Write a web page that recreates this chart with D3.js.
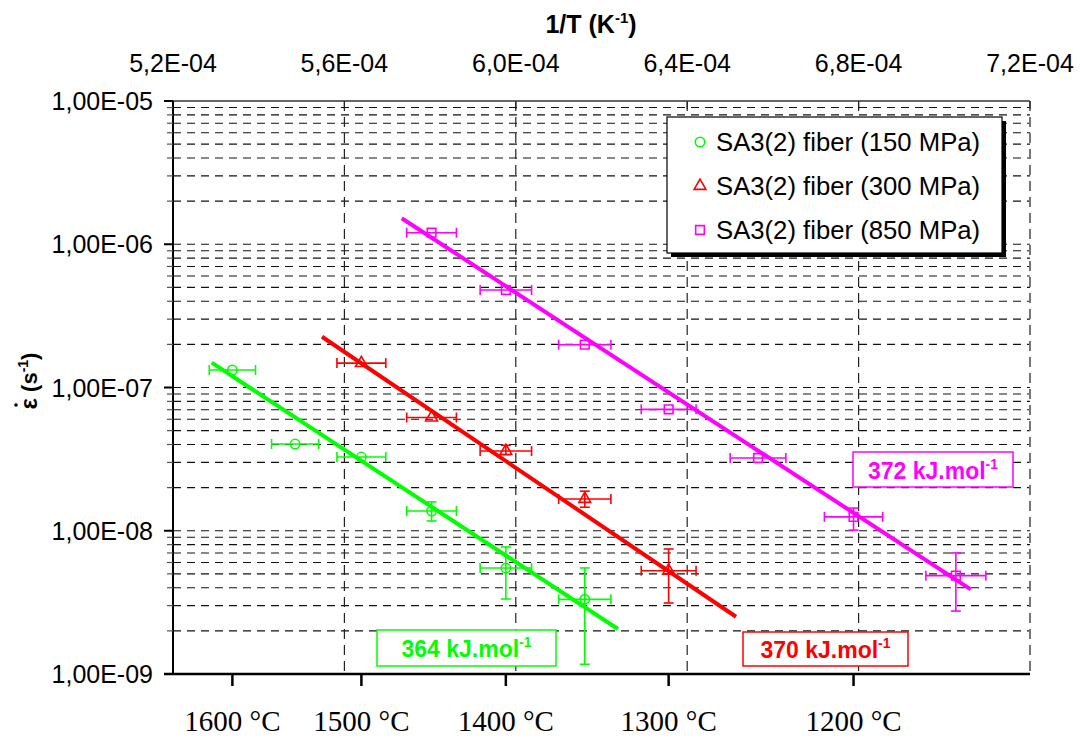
<!DOCTYPE html>
<html><head><meta charset="utf-8">
<script src="https://cdn.jsdelivr.net/npm/d3@7/dist/d3.min.js"></script>
<style>body{margin:0;background:#fff}svg{display:block}</style>
</head><body>
<svg id="chart" width="1080" height="738"></svg>
<script>
// ---------- data ----------
const seriesNames = ["SA3(2) fiber (150 MPa)", "SA3(2) fiber (300 MPa)", "SA3(2) fiber (850 MPa)"];
const seriesColors = ["#00ff00", "#ff0000", "#ff00ff"];
const seriesSymbols = ["circle", "triangle", "square"];

// 1/T (K^-1) of each test
const invT150 = [5.3386e-4, 5.4850e-4, 5.6396e-4, 5.8034e-4, 5.9768e-4, 6.1610e-4];
const rate150 = [1.325e-7, 4.03e-8, 3.27e-8, 1.374e-8, 5.49e-9, 3.32e-9];
const xErr150 = [5.4e-6, 5.5e-6, 5.7e-6, 5.8e-6, 6.0e-6, 6.1e-6];
const yLo150  = [null, null, null, 1.17e-8, 3.34e-9, 1.17e-9];
const yHi150  = [null, null, null, 1.59e-8, 7.71e-9, 5.5e-9];

const invT300 = [5.6396e-4, 5.8034e-4, 5.9768e-4, 6.1610e-4, 6.3567e-4];
const rate300 = [1.48e-7, 6.17e-8, 3.60e-8, 1.666e-8, 5.26e-9];
const xErr300 = [5.7e-6, 5.8e-6, 6.0e-6, 6.1e-6, 6.4e-6];
const yLo300  = [null, null, 3.4e-8, 1.46e-8, 3.13e-9];
const yHi300  = [null, null, 3.95e-8, 1.89e-8, 7.46e-9];

const invT850 = [5.8034e-4, 5.9768e-4, 6.1610e-4, 6.3567e-4, 6.5653e-4, 6.7882e-4, 7.0270e-4];
const rate850 = [1.204e-6, 4.79e-7, 1.99e-7, 7.04e-8, 3.22e-8, 1.25e-8, 4.86e-9];
const xErr850 = [5.8e-6, 6.0e-6, 6.1e-6, 6.4e-6, 6.5e-6, 6.8e-6, 7.0e-6];
const yLo850  = [null, null, null, null, null, 1.01e-8, 2.75e-9];
const yHi850  = [null, null, null, null, null, 1.44e-8, 7.0e-9];

// Arrhenius fit lines (endpoints)
const fitX150 = [5.2903e-4, 6.2385e-4], fitY150 = [1.49e-7, 2.06e-9];
const fitX300 = [5.5477e-4, 6.5139e-4], fitY300 = [2.26e-7, 2.51e-9];
const fitX850 = [5.7337e-4, 7.0616e-4], fitY850 = [1.52e-6, 3.90e-9];

const energyLabels = ["364 kJ.mol", "370 kJ.mol", "372 kJ.mol"];

// axes
const xTopTicks = [5.2e-4, 5.6e-4, 6.0e-4, 6.4e-4, 6.8e-4, 7.2e-4];
const xTopLabels = ["5,2E-04", "5,6E-04", "6,0E-04", "6,4E-04", "6,8E-04", "7,2E-04"];
const tempTicksC = [1600, 1500, 1400, 1300, 1200];
const yMajorTicks = [1e-9, 1e-8, 1e-7, 1e-6, 1e-5];
const yMajorLabels = ["1,00E-09", "1,00E-08", "1,00E-07", "1,00E-06", "1,00E-05"];

// ---------- layout ----------
const L = 173, R = 1030, T = 101, B = 674;
const svg = d3.select("#chart");
const x = d3.scaleLinear().domain([5.2e-4, 7.2e-4]).range([L, R]);
const y = d3.scaleLog().domain([1e-9, 1e-5]).range([B, T]);
const FONT = "'Liberation Sans', Arial, sans-serif";

const gridVals = [];
yMajorTicks.slice(0, 4).forEach(d => { for (let k = 1; k <= 9; k++) gridVals.push(d * k); });
gridVals.push(1e-5);

const g = svg.append("g");
g.selectAll("line.hg").data(gridVals.filter(v => v > 1.0001e-9 && v < 0.9999e-5)).enter()
  .append("line").attr("x1", L).attr("x2", R)
  .attr("y1", d => y(d)).attr("y2", d => y(d))
  .attr("stroke", "#111").attr("stroke-width", 1.1).attr("stroke-dasharray", "8,6");
g.selectAll("line.vg").data(xTopTicks.slice(1)).enter()
  .append("line").attr("x1", d => x(d)).attr("x2", d => x(d))
  .attr("y1", T).attr("y2", B)
  .attr("stroke", d => d === 7.2e-4 ? "#777" : "#222").attr("stroke-width", d => d === 7.2e-4 ? 2 : 1.2)
  .attr("stroke-dasharray", "10,6");

g.append("line").attr("x1", L).attr("x2", R).attr("y1", T).attr("y2", T)
  .attr("stroke", "#666").attr("stroke-width", 2);
g.selectAll("line.tt").data(xTopTicks).enter().append("line")
  .attr("x1", d => x(d)).attr("x2", d => x(d)).attr("y1", T).attr("y2", T + 8)
  .attr("stroke", "#222").attr("stroke-width", 1.2);
g.selectAll("text.tl").data(xTopTicks).enter().append("text")
  .attr("x", d => x(d)).attr("y", 72).attr("text-anchor", "middle")
  .attr("font-family", FONT).attr("font-size", 25).attr("fill", "#000")
  .text((d, i) => xTopLabels[i]);
const tt = g.append("text").attr("x", 591).attr("y", 33).attr("text-anchor", "middle")
  .attr("font-family", FONT).attr("font-size", 25).attr("font-weight", "bold");
tt.append("tspan").text("1/T (K");
tt.append("tspan").attr("font-size", 15).attr("dy", -10).text("-1");
tt.append("tspan").attr("dy", 10).text(")");

// left axis
g.append("line").attr("x1", L).attr("x2", L).attr("y1", T).attr("y2", B)
  .attr("stroke", "#000").attr("stroke-width", 2);
g.selectAll("line.ymin").data(gridVals.filter(v => !yMajorTicks.some(m => Math.abs(m - v) / m < 1e-6))).enter()
  .append("line").attr("x1", L - 6).attr("x2", L).attr("y1", d => y(d)).attr("y2", d => y(d))
  .attr("stroke", "#555").attr("stroke-width", 1.2);
g.selectAll("line.ymaj").data(yMajorTicks).enter()
  .append("line").attr("x1", L - 9).attr("x2", L).attr("y1", d => y(d)).attr("y2", d => y(d))
  .attr("stroke", "#000").attr("stroke-width", 2);
g.selectAll("text.yl").data(yMajorTicks).enter().append("text")
  .attr("x", 153).attr("y", d => y(d) + 9).attr("text-anchor", "end")
  .attr("font-family", FONT).attr("font-size", 25).text((d, i) => yMajorLabels[i]);

// y title: epsilon-dot (s^-1)
const yg = g.append("g").attr("transform", "translate(37,381) rotate(-90)");
const yt = yg.append("text").attr("text-anchor", "middle").attr("font-family", FONT)
  .attr("font-size", 22).attr("font-weight", "bold");
yt.append("tspan").attr("font-size", 24).text("ε");
yt.append("tspan").text(" (s");
yt.append("tspan").attr("font-size", 14).attr("dy", -9).text("-1");
yt.append("tspan").attr("dy", 9).text(")");
// dot accent over epsilon
yg.append("circle").attr("cx", -24).attr("cy", -21).attr("r", 1.8).attr("fill", "#000");

// bottom axis
g.append("line").attr("x1", L - 9).attr("x2", R).attr("y1", B).attr("y2", B)
  .attr("stroke", "#000").attr("stroke-width", 2.5);
const tempX = c => x(1 / (c + 273.15));
g.selectAll("line.bt").data(tempTicksC).enter().append("line")
  .attr("x1", d => tempX(d)).attr("x2", d => tempX(d)).attr("y1", B).attr("y2", B + 12)
  .attr("stroke", "#000").attr("stroke-width", 2.5);
g.selectAll("text.bl").data(tempTicksC).enter().append("text")
  .attr("x", d => tempX(d)).attr("y", 731).attr("text-anchor", "middle")
  .attr("font-family", "'Liberation Serif', 'Times New Roman', serif").attr("font-size", 29)
  .text(d => d + " °C");

// ---------- series ----------
const series = [
  {xs: invT150, ys: rate150, xe: xErr150, lo: yLo150, hi: yHi150, fx: fitX150, fy: fitY150},
  {xs: invT300, ys: rate300, xe: xErr300, lo: yLo300, hi: yHi300, fx: fitX300, fy: fitY300},
  {xs: invT850, ys: rate850, xe: xErr850, lo: yLo850, hi: yHi850, fx: fitX850, fy: fitY850}
];
const symGen = {
  circle: d3.symbol().type(d3.symbolCircle).size(70),
  triangle: d3.symbol().type(d3.symbolTriangle).size(60),
  square: d3.symbol().type(d3.symbolSquare).size(75)
};
const line = d3.line().x(d => x(d[0])).y(d => y(d[1]));

series.forEach((s, si) => {
  const col = seriesColors[si];
  const sg = svg.append("g");
  const pts = s.xs.map((v, i) => ({x: v, y: s.ys[i], xe: s.xe[i], lo: s.lo[i], hi: s.hi[i]}));
  sg.append("path").attr("d", line(s.fx.map((v, i) => [v, s.fy[i]])))
    .attr("stroke", col).attr("stroke-width", 4).attr("fill", "none");
  pts.forEach(p => {
    const cy = y(p.y), x1 = x(p.x - p.xe), x2 = x(p.x + p.xe);
    sg.append("line").attr("x1", x1).attr("x2", x2).attr("y1", cy).attr("y2", cy)
      .attr("stroke", col).attr("stroke-width", 1.6);
    [x1, x2].forEach(xx => sg.append("line").attr("x1", xx).attr("x2", xx).attr("y1", cy - 5).attr("y2", cy + 5)
      .attr("stroke", col).attr("stroke-width", 1.6));
    if (p.lo != null) {
      const cx = x(p.x), y1 = y(p.hi), y2 = y(p.lo);
      sg.append("line").attr("x1", cx).attr("x2", cx).attr("y1", y1).attr("y2", y2)
        .attr("stroke", col).attr("stroke-width", 1.6);
      [y1, y2].forEach(yy => sg.append("line").attr("x1", cx - 5).attr("x2", cx + 5).attr("y1", yy).attr("y2", yy)
        .attr("stroke", col).attr("stroke-width", 1.6));
    }
  });
  sg.selectAll("path.m").data(pts).enter().append("path")
    .attr("d", symGen[seriesSymbols[si]]())
    .attr("transform", d => `translate(${x(d.x)},${y(d.y)})`)
    .attr("fill", "none").attr("stroke", col).attr("stroke-width", 1.6);
});

// ---------- energy boxes ----------
const boxes = [
  {x0: 377, y0: 630, w: 179, h: 36},
  {x0: 743, y0: 632, w: 165, h: 34},
  {x0: 853, y0: 452, w: 160, h: 35}
];
boxes.forEach((b, i) => {
  const col = seriesColors[i];
  svg.append("rect").attr("x", b.x0).attr("y", b.y0).attr("width", b.w).attr("height", b.h)
    .attr("fill", "#fff").attr("stroke", col).attr("stroke-width", 1.5);
  const t = svg.append("text").attr("x", b.x0 + b.w / 2).attr("y", b.y0 + b.h / 2 + 9)
    .attr("text-anchor", "middle").attr("font-family", FONT).attr("font-size", 23)
    .attr("font-weight", "bold").attr("fill", col);
  t.append("tspan").text(energyLabels[i]);
  t.append("tspan").attr("font-size", 14).attr("dy", -10).text("-1");
});

// ---------- legend ----------
const lg = svg.append("g");
lg.append("rect").attr("x", 671).attr("y", 121).attr("width", 335).attr("height", 136).attr("fill", "#000");
lg.append("rect").attr("x", 667).attr("y", 117).attr("width", 335).attr("height", 136)
  .attr("fill", "#fff").attr("stroke", "#000").attr("stroke-width", 1.2);
seriesNames.forEach((n, i) => {
  const yy = 142 + i * 44;
  lg.append("path").attr("d", symGen[seriesSymbols[i]]())
    .attr("transform", `translate(700,${yy})`).attr("fill", "none")
    .attr("stroke", seriesColors[i]).attr("stroke-width", 1.6);
  lg.append("text").attr("x", 716).attr("y", yy + 9).attr("font-family", FONT)
    .attr("font-size", 25.7).text(n);
});
</script>
</body></html>
